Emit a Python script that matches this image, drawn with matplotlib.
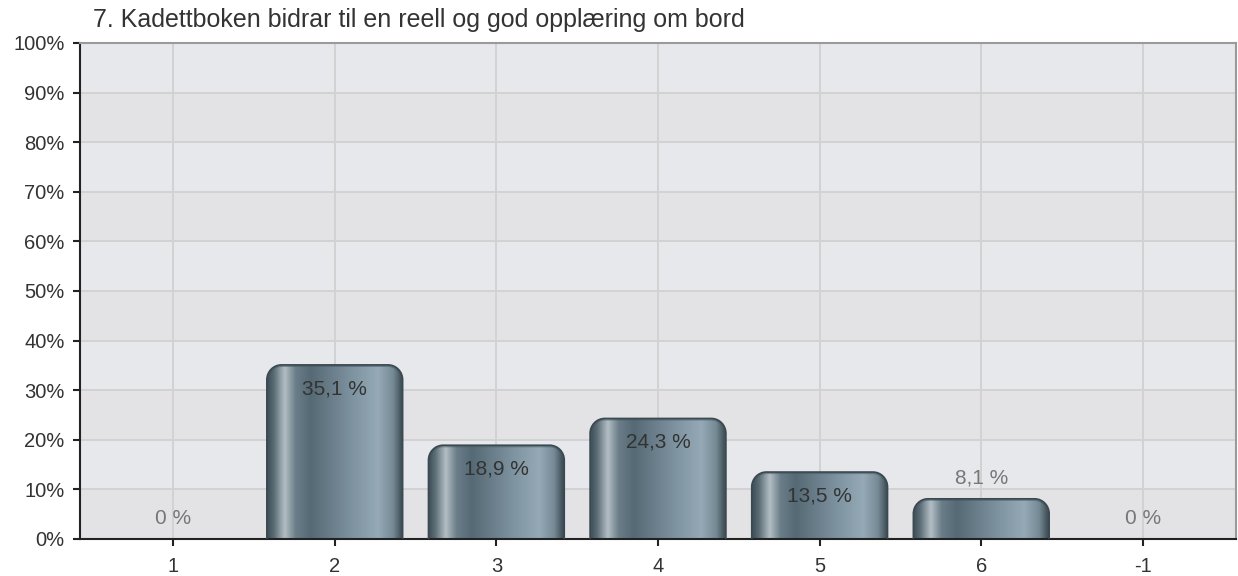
import numpy as np
import matplotlib
matplotlib.use("Agg")
import matplotlib.pyplot as plt
from matplotlib.path import Path
from matplotlib.patches import PathPatch
from matplotlib.colors import LinearSegmentedColormap
from matplotlib.ticker import FuncFormatter, MultipleLocator

# -----------------------------------------------------------------------
# Data
# -----------------------------------------------------------------------
TITLE      = "7. Kadettboken bidrar til en reell og god opplæring om bord"
categories = ["1", "2", "3", "4", "5", "6", "-1"]
values     = [0.0, 35.1, 18.9, 24.3, 13.5, 8.1, 0.0]
labels     = ["0 %", "35,1 %", "18,9 %", "24,3 %", "13,5 %", "8,1 %", "0 %"]

plt.rcParams["font.family"] = ["Liberation Sans", "DejaVu Sans"]

# cylinder-like shading across the bar width
bar_cmap = LinearSegmentedColormap.from_list("steel", [
    (0.00, "#3e4d56"),
    (0.05, "#5b6c76"),
    (0.13, "#b3bec4"),
    (0.21, "#6a7d88"),
    (0.32, "#566a75"),
    (0.60, "#7a909c"),
    (0.82, "#95aab6"),
    (0.93, "#758a95"),
    (1.00, "#3a4850"),
])


def rounded_top_path(x0, x1, h, rx, ry):
    """Bar outline with rounded top corners (data coords)."""
    k = 0.5523
    verts = [
        (x0, -1), (x0, h - ry),
        (x0, h - ry + k * ry), (x0 + rx - k * rx, h), (x0 + rx, h),
        (x1 - rx, h),
        (x1 - rx + k * rx, h), (x1, h - ry + k * ry), (x1, h - ry),
        (x1, -1), (x0, -1),
    ]
    codes = [Path.MOVETO, Path.LINETO,
             Path.CURVE4, Path.CURVE4, Path.CURVE4,
             Path.LINETO,
             Path.CURVE4, Path.CURVE4, Path.CURVE4,
             Path.LINETO, Path.CLOSEPOLY]
    return Path(verts, codes)


fig = plt.figure(figsize=(12.38, 5.76), dpi=100, facecolor="white")
ax = fig.add_axes([80 / 1238, 1 - 539 / 576, 1156 / 1238, 496 / 576])

x = np.arange(len(categories))
ax.set_xlim(-0.576, len(categories) - 1 + 0.576)
ax.set_ylim(0, 100)

# alternating background bands
ax.set_facecolor("#e6e8eb")
for lo in range(0, 100, 20):
    ax.axhspan(lo, lo + 10, color="#e3e3e5", zorder=0, lw=0)

ax.yaxis.set_major_locator(MultipleLocator(10))
ax.yaxis.set_major_formatter(FuncFormatter(lambda v, _: f"{int(v)}%"))
ax.set_xticks(x)
ax.set_xticklabels(categories)
ax.grid(True, color="#d2d2d2", linewidth=1.4, zorder=1)
ax.set_axisbelow(True)

ax.tick_params(axis="both", direction="out", length=5, width=1.5,
               color="#222222", labelcolor="#333333", labelsize=14.5)
ax.tick_params(axis="y", pad=6)
ax.tick_params(axis="x", pad=8)
ax.spines["left"].set_color("#222222")
ax.spines["left"].set_linewidth(1.5)
ax.spines["bottom"].set_color("#222222")
ax.spines["bottom"].set_linewidth(1.5)
for s in ("top", "right"):
    ax.spines[s].set_color("#9a9a9a")
    ax.spines[s].set_linewidth(1.5)

bar_w = 0.84
rx, ry = 0.09, 3.0
grad = np.linspace(0, 1, 256).reshape(1, -1)

for xi, v, lab in zip(x, values, labels):
    if v > 0:
        x0, x1 = xi - bar_w / 2, xi + bar_w / 2
        patch = PathPatch(rounded_top_path(x0, x1, v, rx, ry),
                          facecolor="none", edgecolor="#3a4850",
                          linewidth=1.2, zorder=3)
        ax.add_patch(patch)
        im = ax.imshow(grad, cmap=bar_cmap, aspect="auto",
                       extent=[x0, x1, 0, v], zorder=2,
                       interpolation="bilinear")
        im.set_clip_path(patch)
        # darker rim along the top
        top = PathPatch(rounded_top_path(x0, x1, v, rx, ry),
                        facecolor="none", edgecolor="#45555e",
                        linewidth=3, alpha=0.5, zorder=2.5)
        ax.add_patch(top)
        top.set_clip_path(patch)
    if v > 10:
        ax.text(xi, v - 4.8, lab, ha="center", va="center",
                fontsize=15, color="#333333", zorder=4)
    else:
        ax.text(xi, v + 4.2, lab, ha="center", va="center",
                fontsize=15, color="#777777", zorder=4)

fig.text(93 / 1238, 1 - 20 / 576, TITLE, ha="left", va="center",
         fontsize=18, color="#333333")

plt.savefig("out.png", dpi=100, facecolor="white")
plt.close(fig)
